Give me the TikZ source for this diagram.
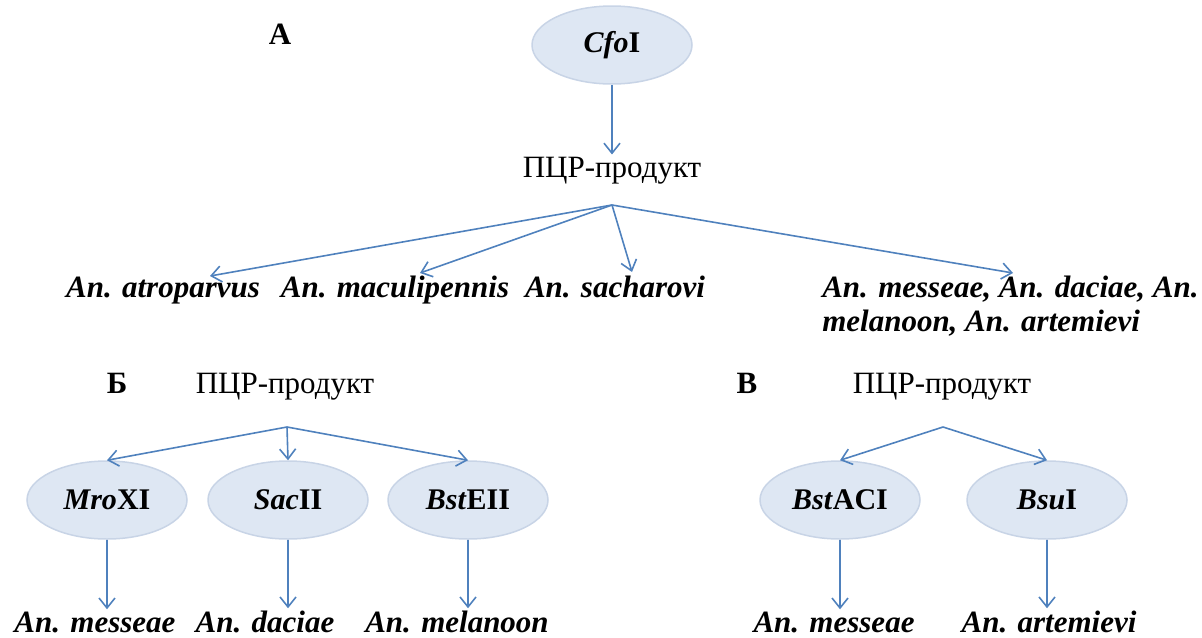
\documentclass[tikz,border=0pt]{standalone}
\usepackage{fontspec}
\setmainfont{Liberation Serif}
\usetikzlibrary{arrows.meta,shapes.geometric}

\definecolor{arrblue}{RGB}{79,129,189}
\definecolor{ellfill}{RGB}{222,231,243}
\definecolor{elldraw}{RGB}{200,212,230}

\tikzset{every picture/.style={line width=0.75pt}}
\tikzset{
  arr/.style={color=arrblue, line width=0.8pt, -{Straight Barb[length=5pt,width=8pt]}},
  enzyme/.style={ellipse, draw=elldraw, fill=ellfill, minimum width=80pt, minimum height=39pt, inner sep=0pt, font=\fontsize{15}{18}\selectfont\bfseries},
  species/.style={inner sep=0.75pt, font=\fontsize{15.5}{17}\selectfont\bfseries\itshape},
  plain/.style={inner sep=0.75pt, font=\fontsize{15.5}{18}\selectfont},
  panel/.style={inner sep=0.75pt, font=\fontsize{15.5}{18}\selectfont\bfseries},
}

\begin{document}
\begin{tikzpicture}[x=0.5pt,y=0.5pt,yscale=-1,xscale=1]
\useasboundingbox (0,0) rectangle (1202,637);

%%%% panel A
% Text Node
\draw (280,44) node [anchor=base][panel] (labA) {А};
%Shape: Ellipse
\draw (612,45) node [enzyme] (cfo) {\textit{Cfo}I};
% Text Node
\draw (612,177) node [anchor=base][plain] (pcrA) {ПЦР-продукт};
\coordinate (forkA) at (612,205);
% Text Node
\draw (163,297) node [anchor=base][species] (atro) {An. atroparvus};
% Text Node
\draw (395,297) node [anchor=base][species] (macu) {An. maculipennis};
% Text Node
\draw (615,297) node [anchor=base][species] (sach) {An. sacharovi};
% Text Node
\draw (820,274) node [anchor=north west][species][align=left] (rest) {An. messeae, An. daciae, An.\\melanoon, An. artemievi};
\coordinate (tipAtro) at (210,276);
\coordinate (tipMacu) at (420,273);
\coordinate (tipSach) at (632,272);
\coordinate (tipRest) at (1013,273);

%Straight Lines
\draw [arr] (cfo.south) -- (pcrA.north);
\draw [arr] (forkA) -- (tipAtro);
\draw [arr] (forkA) -- (tipMacu);
\draw [arr] (forkA) -- (tipSach);
\draw [arr] (forkA) -- (tipRest);

%%%% panel B
% Text Node
\draw (117,393) node [anchor=base][panel] (labB) {Б};
% Text Node
\draw (285,393) node [anchor=base][plain] (pcrB) {ПЦР-продукт};
\coordinate (forkB) at (287,427);
%Shape: Ellipse
\draw (107,500) node [enzyme] (mro) {\textit{Mro}XI};
\draw (288,500) node [enzyme] (sac) {\textit{Sac}II};
\draw (468,500) node [enzyme] (bste) {\textit{Bst}EII};
% Text Node
\draw (95,632) node [anchor=base][species] (mesB) {An. messeae};
\draw (265,632) node [anchor=base][species] (dacB) {An. daciae};
\draw (457,632) node [anchor=base][species] (melB) {An. melanoon};

%Straight Lines
\draw [arr] (forkB) -- (mro.north);
\draw [arr] (forkB) -- (sac.north);
\draw [arr] (forkB) -- (bste.north);
\draw [arr] (mro.south) -- (mro.south |- mesB.north);
\draw [arr] (sac.south) -- (sac.south |- dacB.north);
\draw [arr] (bste.south) -- (bste.south |- melB.north);

%%%% panel C
% Text Node
\draw (747,393) node [anchor=base][panel] (labC) {В};
% Text Node
\draw (942,393) node [anchor=base][plain] (pcrC) {ПЦР-продукт};
\coordinate (forkC) at (943,427);
%Shape: Ellipse
\draw (840,500) node [enzyme] (bsta) {\textit{Bst}ACI};
\draw (1047,500) node [enzyme] (bsu) {\textit{Bsu}I};
% Text Node
\draw (834,632) node [anchor=base][species] (mesC) {An. messeae};
\draw (1049,632) node [anchor=base][species] (artC) {An. artemievi};

%Straight Lines
\draw [arr] (forkC) -- (bsta.north);
\draw [arr] (forkC) -- (bsu.north);
\draw [arr] (bsta.south) -- (bsta.south |- mesC.north);
\draw [arr] (bsu.south) -- (bsu.south |- artC.north);

\end{tikzpicture}
\end{document}
